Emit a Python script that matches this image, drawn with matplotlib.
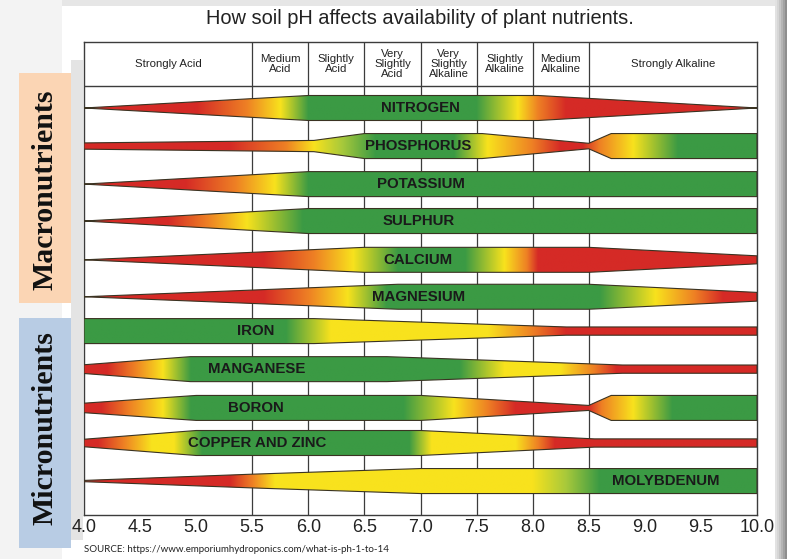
import numpy as np
import matplotlib.pyplot as plt
from matplotlib.patches import Polygon, Rectangle
from matplotlib.colors import to_rgb

plt.rcParams['font.family'] = ['Liberation Sans', 'DejaVu Sans']

# --- data -------------------------------------------------------------
nutrients = ['NITROGEN', 'PHOSPHORUS', 'POTASSIUM', 'SULPHUR', 'CALCIUM', 'MAGNESIUM',
             'IRON', 'MANGANESE', 'BORON', 'COPPER AND ZINC', 'MOLYBDENUM']

ph_ticks = [4.0, 4.5, 5.0, 5.5, 6.0, 6.5, 7.0, 7.5, 8.0, 8.5, 9.0, 9.5, 10.0]

# pH classes of the header row
class_edges = [4.0, 5.5, 6.0, 6.5, 7.0, 7.5, 8.0, 8.5, 10.0]
class_names = ['Strongly Acid', 'Medium\nAcid', 'Slightly\nAcid', 'Very\nSlightly\nAcid',
               'Very\nSlightly\nAlkaline', 'Slightly\nAlkaline', 'Medium\nAlkaline',
               'Strongly Alkaline']

# band thickness (1 = full availability) at given pH
nitrogen_width = [(4.0, 0.0), (6.0, 1.0), (8.05, 1.0), (10.0, 0.0)]
phosphorus_width = [(4.0, 0.25), (6.05, 0.45), (6.5, 1.0), (7.55, 1.0), (8.5, 0.22), (8.7, 1.0), (10.0, 1.0)]
potassium_width = [(4.0, 0.0), (6.0, 1.0), (10.0, 1.0)]
sulphur_width = [(4.0, 0.0), (6.0, 1.0), (10.0, 1.0)]
calcium_width = [(4.0, 0.0), (6.5, 1.0), (8.5, 1.0), (10.0, 0.32)]
magnesium_width = [(4.0, 0.0), (6.8, 1.0), (8.5, 1.0), (10.0, 0.35)]
iron_width = [(4.0, 1.0), (6.05, 1.0), (8.3, 0.33), (10.0, 0.33)]
manganese_width = [(4.0, 0.35), (4.95, 1.0), (6.7, 1.0), (8.8, 0.33), (10.0, 0.33)]
boron_width = [(4.0, 0.38), (5.0, 1.0), (7.0, 1.0), (8.5, 0.2), (8.7, 1.0), (10.0, 1.0)]
copper_width = [(4.0, 0.3), (5.0, 1.0), (7.0, 1.0), (8.55, 0.33), (10.0, 0.33)]
molybdenum_width = [(4.0, 0.05), (5.5, 0.55), (7.0, 1.0), (10.0, 1.0)]

# colour along the band (availability level at given pH)
nitrogen_col = [(4.0, 'red'), (5.0, 'red'), (5.45, 'orange'), (5.75, 'yellow'), (6.0, 'green'),
                (7.5, 'green'), (7.87, 'yellow'), (8.05, 'orange'), (8.3, 'red'), (10.0, 'red')]
phosphorus_col = [(4.0, 'red'), (5.3, 'red'), (5.8, 'orange'), (6.05, 'yellow'), (6.3, 'lime'),
                  (6.6, 'green'), (7.3, 'green'), (7.6, 'yellow'), (8.0, 'orange'), (8.25, 'red'),
                  (8.45, 'red'), (8.6, 'orange'), (8.9, 'yellow'), (9.3, 'green'), (10.0, 'green')]
potassium_col = [(4.0, 'red'), (4.9, 'red'), (5.35, 'orange'), (5.7, 'yellow'), (6.0, 'green'),
                 (10.0, 'green')]
sulphur_col = [(4.0, 'red'), (4.75, 'red'), (5.1, 'orange'), (5.45, 'yellow'), (5.95, 'green'),
               (10.0, 'green')]
calcium_col = [(4.0, 'red'), (5.6, 'red'), (6.05, 'orange'), (6.4, 'yellow'), (6.8, 'green'),
               (7.4, 'green'), (7.75, 'yellow'), (7.95, 'orange'), (8.05, 'red'), (10.0, 'red')]
magnesium_col = [(4.0, 'red'), (5.6, 'red'), (6.0, 'orange'), (6.35, 'yellow'), (6.7, 'green'),
                 (8.6, 'green'), (9.1, 'yellow'), (9.45, 'orange'), (9.7, 'red'), (10.0, 'red')]
iron_col = [(4.0, 'green'), (5.8, 'green'), (6.2, 'yellow'), (7.6, 'yellow'), (8.0, 'orange'),
            (8.3, 'red'), (10.0, 'red')]
manganese_col = [(4.0, 'red'), (4.2, 'red'), (4.45, 'orange'), (4.7, 'yellow'), (4.95, 'green'),
                 (7.35, 'green'), (7.75, 'yellow'), (8.25, 'yellow'), (8.55, 'orange'),
                 (8.75, 'red'), (10.0, 'red')]
boron_col = [(4.0, 'red'), (4.15, 'red'), (4.4, 'orange'), (4.7, 'yellow'), (4.95, 'green'),
             (6.85, 'green'), (7.3, 'yellow'), (7.6, 'orange'), (7.85, 'red'), (8.5, 'red'),
             (8.62, 'orange'), (8.9, 'yellow'), (9.25, 'green'), (10.0, 'green')]
copper_col = [(4.0, 'red'), (4.12, 'red'), (4.35, 'orange'), (4.6, 'yellow'), (4.8, 'yellow'),
              (5.05, 'green'), (6.9, 'green'), (7.1, 'yellow'), (7.85, 'yellow'), (8.05, 'orange'),
              (8.2, 'red'), (10.0, 'red')]
molybdenum_col = [(4.0, 'red'), (5.3, 'red'), (5.5, 'orange'), (5.7, 'yellow'), (8.0, 'yellow'),
                  (8.3, 'lime'), (8.6, 'green'), (10.0, 'green')]

widths = [nitrogen_width, phosphorus_width, potassium_width, sulphur_width, calcium_width,
          magnesium_width, iron_width, manganese_width, boron_width, copper_width, molybdenum_width]
colours = [nitrogen_col, phosphorus_col, potassium_col, sulphur_col, calcium_col, magnesium_col,
           iron_col, manganese_col, boron_col, copper_col, molybdenum_col]

# --- layout / style ----------------------------------------------------
# vertical place of each band (row units) and where its name sits (pH)
row_y = [0.0, 1.02, 2.04, 3.03, 4.07, 5.06, 5.98, 7.0, 8.04, 8.98, 10.0]
label_ph = [7.0, 6.98, 7.0, 6.98, 6.98, 6.98, 5.53, 5.54, 5.53, 5.54, 9.19]

palette = {'red': '#d52a26', 'orange': '#ee8024', 'yellow': '#f8e21d',
           'lime': '#a8c93b', 'green': '#3b9a44'}
half = 0.335         # half thickness of a full band, in row units
edge = '#3a3322'
grid_col = '#3c3c3c'

fig = plt.figure(figsize=(7.87, 5.59), dpi=100)

# slide-like frame around the picture
bg = fig.add_axes([0, 0, 1, 1])
bg.set_xlim(0, 787)
bg.set_ylim(559, 0)
bg.axis('off')
bg.add_patch(Rectangle((0, 0), 787, 6, color='#e6e6e6', lw=0))
bg.add_patch(Rectangle((0, 0), 62, 559, color='#f3f3f3', lw=0))
for i, c in enumerate(['#e2e2e2', '#d6d6d6', '#c6c6c6', '#b4b4b4', '#a2a2a2', '#8e8e8e']):
    bg.add_patch(Rectangle((775 + 2 * i, 0), 2, 559, color=c, lw=0))
bg.add_patch(Rectangle((71, 60), 12, 480, color='#e4e4e4', lw=0))

# side labels
bg.add_patch(Rectangle((19, 73), 52, 230, color='#fbd5b4', lw=0))
bg.add_patch(Rectangle((19, 318), 52, 230, color='#b8cce4', lw=0))
bg.text(45, 190, 'Macronutrients', rotation=90, ha='center', va='center',
        family='Liberation Serif', fontweight='bold', fontsize=21.5, color='#111111')
bg.text(45, 428, 'Micronutrients', rotation=90, ha='center', va='center',
        family='Liberation Serif', fontweight='bold', fontsize=21.5, color='#111111')

# main table
ax = fig.add_axes([84 / 787, 1 - 515 / 559, 673 / 787, 473 / 559])
y_top, y_head, y_bot = -1.769, -0.59, 10.91

ax.vlines(class_edges[1:-1], y_top, y_bot, color=grid_col, lw=0.9, zorder=1)
ax.axhline(y_head, color=grid_col, lw=1.0, zorder=1)

for k in range(len(class_names)):
    xc = (class_edges[k] + class_edges[k + 1]) / 2
    ax.text(xc, (y_top + y_head) / 2, class_names[k], ha='center', va='center',
            fontsize=8.2, linespacing=1.0, color='#222222')

xs = np.linspace(4.0, 10.0, 601)
for row, name in enumerate(nutrients):
    yc = row_y[row]
    wp = [p for p, v in widths[row]]
    wv = [v for p, v in widths[row]]
    hw = np.interp(xs, wp, wv) * half
    verts = np.vstack([np.column_stack([xs, yc - hw]),
                       np.column_stack([xs[::-1], (yc + hw)[::-1]])])

    cp = [p for p, c in colours[row]]
    rgb = np.array([to_rgb(palette[c]) for p, c in colours[row]])
    grad = np.stack([np.interp(xs, cp, rgb[:, j]) for j in range(3)], axis=-1)

    poly = Polygon(verts, closed=True, facecolor='none', edgecolor=edge, lw=0.8, zorder=4)
    ax.add_patch(poly)
    im = ax.imshow(grad[np.newaxis, :, :], extent=(4.0, 10.0, yc + half, yc - half),
                   aspect='auto', interpolation='bilinear', zorder=3)
    im.set_clip_path(poly)

    ax.text(label_ph[row], yc, name, ha='center', va='center', fontsize=10.8,
            fontweight='bold', color='#1a1a1a', zorder=5)

ax.set_xlim(4.0, 10.0)
ax.set_ylim(y_bot, y_top)
ax.set_xticks(ph_ticks)
ax.set_xticklabels([f'{t:.1f}' for t in ph_ticks], fontsize=13, color='#222222')
ax.tick_params(axis='x', length=0, pad=3)
ax.set_yticks([])
for s in ax.spines.values():
    s.set_color(grid_col)
    s.set_linewidth(1.0)

fig.text(420 / 787, 1 - 18 / 559, 'How soil pH affects availability of plant nutrients.',
         ha='center', va='center', fontsize=14.4, color='#222222')
fig.text(84 / 787, 1 - 549 / 559, 'SOURCE: https://www.emporiumhydroponics.com/what-is-ph-1-to-14',
         ha='left', va='center', fontsize=7, family='Lato', color='#222222')

fig.savefig('out.png', dpi=100)
